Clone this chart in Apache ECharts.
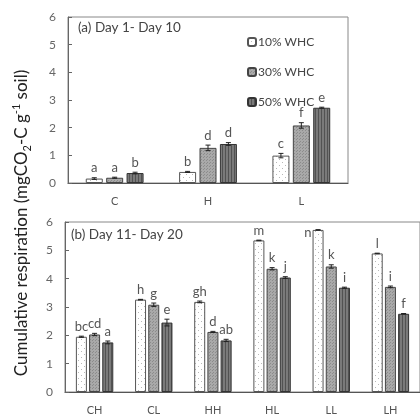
<!DOCTYPE html>
<html>
<head>
<meta charset="utf-8">
<script src="https://cdn.jsdelivr.net/npm/echarts@6/dist/echarts.min.js"></script>
<style>
  html, body { margin: 0; padding: 0; background: #fff; overflow: hidden; }
  #chart { width: 420px; height: 416px; }
</style>
</head>
<body>
<div id="chart"></div>
<script>
// ---- data ----
const seriesNames = ['10% WHC', '30% WHC', '50% WHC'];
const yTicks = [0, 1, 2, 3, 4, 5, 6];

// (a) Day 1 - Day 10
const catsA = ['C', 'H', 'L'];
const valsA10 = [0.16, 0.40, 0.99];
const valsA30 = [0.19, 1.27, 2.08];
const valsA50 = [0.36, 1.41, 2.72];
const errA10 = [0.03, 0.02, 0.08];
const errA30 = [0.02, 0.10, 0.10];
const errA50 = [0.03, 0.05, 0.02];
const lettersA10 = ['a', 'b', 'c'];
const lettersA30 = ['a', 'd', 'f'];
const lettersA50 = ['b', 'd', 'e'];

// (b) Day 11 - Day 20
const catsB = ['CH', 'CL', 'HH', 'HL', 'LL', 'LH'];
const valsB10 = [1.95, 3.26, 3.18, 5.35, 5.72, 4.89];
const valsB30 = [2.03, 3.08, 2.12, 4.35, 4.43, 3.71];
const valsB50 = [1.75, 2.45, 1.82, 4.04, 3.68, 2.76];
const errB10 = [0.02, 0.01, 0.03, 0.01, 0.01, 0.01];
const errB30 = [0.04, 0.06, 0.02, 0.04, 0.06, 0.03];
const errB50 = [0.05, 0.12, 0.04, 0.03, 0.02, 0.01];
const lettersB10 = ['bc', 'h', 'gh', 'm', 'n', 'l'];
const lettersB30 = ['cd', 'g', 'd', 'k', 'k', 'i'];
const lettersB50 = ['a', 'e', 'ab', 'j', 'i', 'f'];

// ---- fill patterns ----
function pattern(w, h, bg, draw) {
  const c = document.createElement('canvas');
  c.width = w; c.height = h;
  const g = c.getContext('2d');
  g.fillStyle = bg; g.fillRect(0, 0, w, h);
  draw(g);
  return { image: c, repeat: 'repeat' };
}
const fill10 = pattern(6, 6, '#ffffff', g => {
  g.fillStyle = '#b8b8b8'; g.fillRect(0, 0, 1, 1); g.fillRect(3, 3, 1, 1);
});
const fill30 = pattern(3, 3, '#a9a9a9', g => {
  g.fillStyle = '#8c8c8c'; g.fillRect(0, 0, 1, 1); g.fillRect(2, 1, 1, 1);
});
const fill50 = pattern(3, 2, '#7a7a7a', g => {
  g.fillStyle = '#525252'; g.fillRect(0, 0, 1, 2);
});
const fills = [fill10, fill30, fill50];
const borders = ['#555', '#444', '#333'];

const FONT = 'Lato, "Open Sans", sans-serif';

// ---- grids ----
const gridA = { left: 68, top: 17, width: 280, height: 166 };
const gridB = { left: 65, top: 222, width: 366, height: 172 };
const barWA = 17, barWB = 11;

function xAxis(idx, cats) {
  return {
    type: 'category', gridIndex: idx, data: cats,
    axisLine: { lineStyle: { color: '#555', width: 1.2 } },
    axisTick: { show: false },
    axisLabel: { color: '#555', fontSize: 11, fontFamily: FONT, margin: 13 }
  };
}
function yAxis(idx) {
  return {
    type: 'value', gridIndex: idx, min: yTicks[0], max: yTicks[yTicks.length - 1], interval: 1,
    axisLine: { show: true, lineStyle: { color: '#666' } },
    axisTick: { show: true, inside: true, length: 4, lineStyle: { color: '#666' } },
    axisLabel: { color: '#666', fontSize: 12, fontFamily: FONT, margin: 12 },
    splitLine: { show: false }
  };
}

function barSeries(idx, slot, vals, barW) {
  return {
    type: 'bar', name: seriesNames[slot], xAxisIndex: idx, yAxisIndex: idx,
    data: vals, barWidth: barW, barGap: '20%',
    itemStyle: { color: fills[slot], borderColor: borders[slot], borderWidth: 1 },
    emphasis: { disabled: true }, animation: false
  };
}

// error bars and significance letters drawn on top of each bar
function overlaySeries(idx, slot, vals, errs, letters, barW) {
  return {
    type: 'custom', xAxisIndex: idx, yAxisIndex: idx, z: 5, animation: false,
    silent: true,
    data: vals.map((v, i) => [i, v, errs[i]]),
    encode: { x: 0, y: 1 },
    renderItem(params, api) {
      const i = api.value(0), v = api.value(1), e = api.value(2);
      const c = api.coord([i, v]);
      const cx = c[0] + (slot - 1) * barW * 1.2;
      const yTop = api.coord([i, v + e])[1];
      const yBot = api.coord([i, v - e])[1];
      const cap = 2.5;
      const ls = { stroke: '#222', lineWidth: 1 };
      const gridTop = params.coordSys.y;
      const letter = letters[params.dataIndex];
      const children = [
        { type: 'line', shape: { x1: cx, y1: yTop, x2: cx, y2: yBot }, style: ls },
        { type: 'line', shape: { x1: cx - cap, y1: yTop, x2: cx + cap, y2: yTop }, style: ls },
        { type: 'line', shape: { x1: cx - cap, y1: yBot, x2: cx + cap, y2: yBot }, style: ls }
      ];
      const tooHigh = yTop - 16 < gridTop;
      children.push({
        type: 'text',
        style: {
          x: tooHigh ? cx - barW / 2 - 1 : cx,
          y: tooHigh ? yTop + 3 : yTop - 3,
          text: letter,
          fill: '#555', font: '13px ' + FONT,
          textAlign: tooHigh ? 'right' : 'center',
          textVerticalAlign: tooHigh ? 'middle' : 'bottom'
        }
      });
      return { type: 'group', children };
    }
  };
}

const chart = echarts.init(document.getElementById('chart'), null, { renderer: 'canvas' });
chart.setOption({
  backgroundColor: '#fff',
  animation: false,
  grid: [
    Object.assign({ show: true, borderColor: '#888', borderWidth: 1 }, gridA),
    Object.assign({ show: true, borderColor: '#888', borderWidth: 1 }, gridB)
  ],
  xAxis: [xAxis(0, catsA), xAxis(1, catsB)],
  yAxis: [yAxis(0), yAxis(1)],
  legend: {
    data: seriesNames, orient: 'vertical', left: 242, top: 31,
    itemWidth: 8, itemHeight: 8, itemGap: 18,
    textStyle: { color: '#444', fontSize: 12, fontFamily: FONT, padding: [0, 0, 0, -3] },
    selectedMode: false
  },
  graphic: [
    { type: 'text', left: 78, top: 21,
      style: { text: '(a) Day 1- Day 10', fill: '#444', font: '13.5px ' + FONT } },
    { type: 'text', left: 71, top: 228,
      style: { text: '(b) Day 11- Day 20', fill: '#444', font: '13.5px ' + FONT } },
    { type: 'text', x: 22, y: 223, rotation: Math.PI / 2,
      style: {
        text: '{n|Cumulative respiration (mgCO}{s|2}{n|-C g}{p|-1}{n| soil)}',
        textAlign: 'center', textVerticalAlign: 'middle',
        rich: {
          n: { fontSize: 17, fontFamily: FONT, fill: '#222', lineHeight: 22 },
          s: { fontSize: 11, fontFamily: FONT, fill: '#222', lineHeight: 12, verticalAlign: 'bottom' },
          p: { fontSize: 11, fontFamily: FONT, fill: '#222', lineHeight: 12, verticalAlign: 'top' }
        }
      } }
  ],
  series: [
    barSeries(0, 0, valsA10, barWA),
    barSeries(0, 1, valsA30, barWA),
    barSeries(0, 2, valsA50, barWA),
    barSeries(1, 0, valsB10, barWB),
    barSeries(1, 1, valsB30, barWB),
    barSeries(1, 2, valsB50, barWB),
    overlaySeries(0, 0, valsA10, errA10, lettersA10, barWA),
    overlaySeries(0, 1, valsA30, errA30, lettersA30, barWA),
    overlaySeries(0, 2, valsA50, errA50, lettersA50, barWA),
    overlaySeries(1, 0, valsB10, errB10, lettersB10, barWB),
    overlaySeries(1, 1, valsB30, errB30, lettersB30, barWB),
    overlaySeries(1, 2, valsB50, errB50, lettersB50, barWB)
  ]
});
</script>
</body>
</html>
